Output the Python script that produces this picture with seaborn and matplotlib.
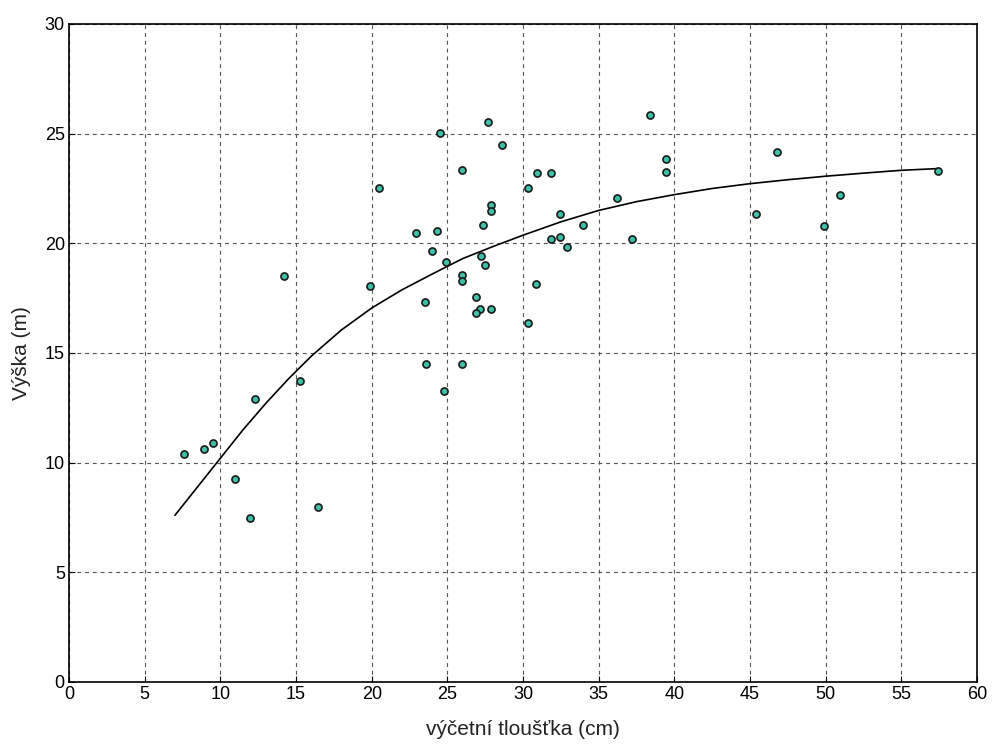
import matplotlib
matplotlib.use("Agg")
import matplotlib.pyplot as plt
import seaborn as sns
import pandas as pd

# Measured points
dbh = [7.6, 8.95, 9.53, 10.94, 11.99, 12.32, 14.19, 15.25, 16.44,
       27.68, 24.53, 28.6, 25.94, 30.94, 31.86, 30.36, 20.46, 27.9, 27.9,
       32.45, 27.33, 22.9, 24.31, 31.84, 32.45, 32.91, 23.96, 24.9, 27.21,
       27.46, 25.94, 25.94, 19.87, 30.83, 26.86, 23.5, 27.9, 27.13, 26.86,
       30.34, 23.59, 25.94, 24.77,
       38.39, 39.43, 39.43, 36.2, 33.97, 37.23, 46.75, 45.37, 50.96, 49.9, 57.43]
height = [10.4, 10.62, 10.88, 9.26, 7.47, 12.88, 18.5, 13.74, 7.96,
          25.53, 25.05, 24.47, 23.35, 23.2, 23.2, 22.54, 22.54, 21.75, 21.47,
          21.34, 20.85, 20.46, 20.55, 20.2, 20.28, 19.82, 19.65, 19.15, 19.42,
          19.01, 18.54, 18.26, 18.05, 18.13, 17.57, 17.32, 16.99, 16.99, 16.82,
          16.35, 14.49, 14.49, 13.27,
          25.86, 23.84, 23.27, 22.07, 20.85, 20.2, 24.16, 21.34, 22.22, 20.78, 23.29]

# Fitted curve
curve_x = [7, 8.5, 10, 11.5, 13, 14.5, 16, 18, 20, 22, 24, 26, 28, 30,
           32.5, 35, 37.5, 40, 42.5, 45, 47.5, 50, 52.5, 55, 57.5]
curve_y = [7.6, 8.9, 10.2, 11.5, 12.7, 13.82, 14.85, 16.05, 17.05, 17.88, 18.6,
           19.3, 19.85, 20.37, 20.98, 21.5, 21.9, 22.22, 22.5, 22.72, 22.9,
           23.06, 23.2, 23.33, 23.41]

x_ticks = list(range(0, 61, 5))
y_ticks = list(range(0, 31, 5))

sns.set_theme(style="white")
plt.rcParams['font.family'] = ['Liberation Sans', 'DejaVu Sans']

fig = plt.figure(figsize=(9.94, 7.52), dpi=100)
ax = fig.add_axes([0.0694, 0.0931, 0.9136, 0.8750])

df_pts = pd.DataFrame({"x": dbh, "y": height})
df_curve = pd.DataFrame({"x": curve_x, "y": curve_y})

sns.lineplot(data=df_curve, x="x", y="y", ax=ax, color="black", linewidth=1.2,
             zorder=3, sort=True)
sns.scatterplot(data=df_pts, x="x", y="y", ax=ax, color="#3dbfa8", edgecolor="#1a1a1a",
                linewidth=1.2, s=26, zorder=4)

ax.set_xlim(0, 60)
ax.set_ylim(0, 30)
ax.set_xticks(x_ticks)
ax.set_yticks(y_ticks)
ax.grid(True, color="#555555", linestyle=(0, (3.5, 3.5)), linewidth=0.8)
ax.set_axisbelow(True)
for sp in ax.spines.values():
    sp.set_visible(True)
    sp.set_color("black")
    sp.set_linewidth(1.2)
ax.tick_params(direction="in", length=4, width=0.8, labelsize=13, colors="black",
               bottom=True, left=True, pad=3)
ax.set_xlabel("výčetní tloušťka (cm)", fontsize=15, color="#222222", labelpad=12)
ax.set_ylabel("Výška (m)", fontsize=15, color="#222222", labelpad=10)

fig.savefig("out.png", dpi=100, facecolor="white")
